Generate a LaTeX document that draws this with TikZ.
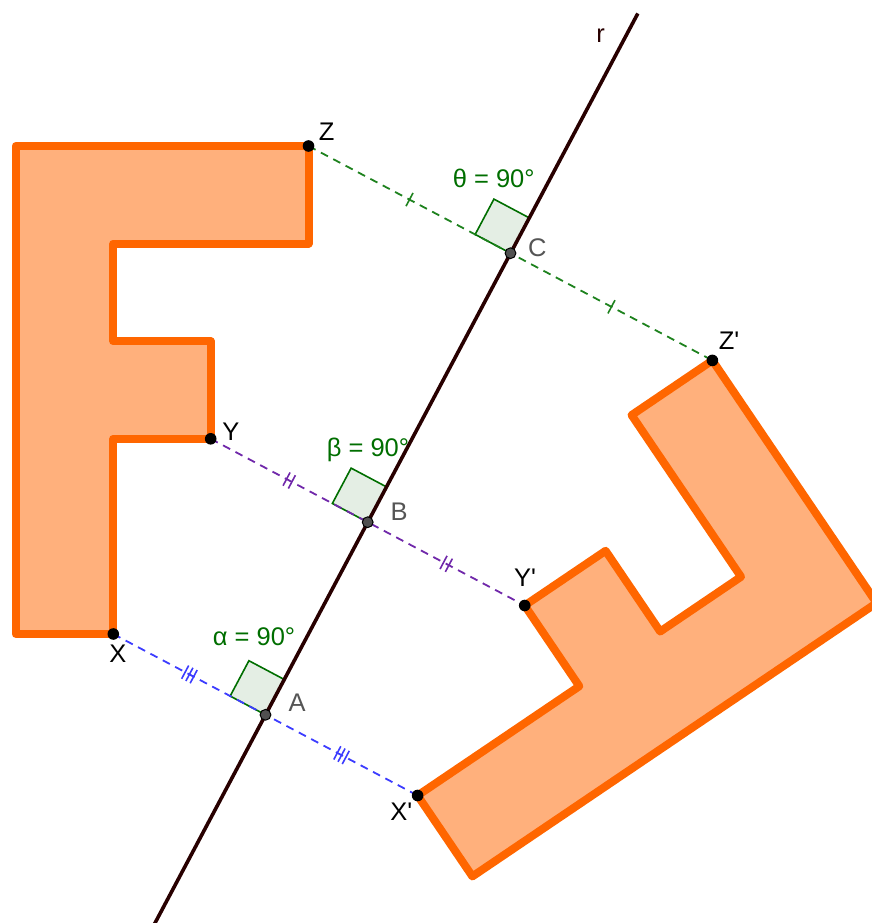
\documentclass[tikz,border=0pt]{standalone}
\usepackage{fontspec}
\setmainfont{Liberation Sans}
\usetikzlibrary{calc}
\definecolor{orangeE}{RGB}{255,102,0}
\definecolor{orangeF}{RGB}{255,176,124}
\definecolor{rline}{RGB}{40,0,0}
\definecolor{ggreen}{RGB}{0,110,0}
\definecolor{dgreen}{RGB}{30,130,30}
\definecolor{sqfill}{RGB}{228,238,228}
\definecolor{gpurple}{RGB}{112,40,170}
\definecolor{gblue}{RGB}{60,60,255}
\definecolor{ptgray}{RGB}{80,80,80}
\definecolor{lblgray}{RGB}{85,85,85}
\newcommand\mytick[3]{\draw[#3, line width=1.6pt] ($(#1)+(#2*0.8833,#2*0.4689)+(7.5*0.4689,-7.5*0.8833)$) -- ($(#1)+(#2*0.8833,#2*0.4689)-(7.5*0.4689,-7.5*0.8833)$);}
\newcommand\mysquare[1]{\draw[sqbox] (#1) -- ++(-40*0.8833,-40*0.4689) -- ++(40*0.4689,-40*0.8833) -- ++(40*0.8833,40*0.4689) -- cycle;}
\begin{document}
\begin{tikzpicture}[x=1pt,y=-1pt,
  figshape/.style={draw=orangeE, fill=orangeF, line width=8pt, line join=round},
  dashseg/.style={line width=1.8pt, dash pattern=on 8pt off 6pt},
  sqbox/.style={draw=ggreen, fill=sqfill, line width=1.6pt},
  lbl/.style={font=\fontsize{25.5}{30}\selectfont, inner sep=0pt, anchor=base},
  blackpt/.style={fill=black},
  graypt/.style={fill=ptgray, draw=black, line width=1pt}]
\useasboundingbox (0,0) rectangle (872,923);
\clip (0,0) rectangle (872,923);
% original F
\coordinate (p1) at (15.7,146);
\coordinate (Z) at (308.5,146);
\coordinate (p3) at (308.5,243.6);
\coordinate (p4) at (113.3,243.6);
\coordinate (p5) at (113.3,341.2);
\coordinate (p6) at (210.7,341.2);
\coordinate (Y) at (210.7,438.8);
\coordinate (p8) at (113.3,438.8);
\coordinate (X) at (113.3,634);
\coordinate (p10) at (15.7,634);
% reflected F
\coordinate (q1) at (876.6,603.0);
\coordinate (Zp) at (712.4,360.4);
\coordinate (q3) at (631.6,415.1);
\coordinate (q4) at (741.0,576.8);
\coordinate (q5) at (660.2,631.5);
\coordinate (q6) at (605.6,550.8);
\coordinate (Yp) at (524.7,605.5);
\coordinate (q8) at (579.3,686.2);
\coordinate (Xp) at (417.6,795.5);
\coordinate (q10) at (472.4,876.4);
% feet on r
\coordinate (A) at (265.5,714.8);
\coordinate (B) at (367.7,522.2);
\coordinate (C) at (510.5,253.2);
\coordinate (rtop) at (637.8,13.5);
\coordinate (rbot) at (143.6,944.5);

\draw[figshape] (p1) -- (Z) -- (p3) -- (p4) -- (p5) -- (p6) -- (Y) -- (p8) -- (X) -- (p10) -- cycle;
\draw[figshape] (q1) -- (Zp) -- (q3) -- (q4) -- (q5) -- (q6) -- (Yp) -- (q8) -- (Xp) -- (q10) -- cycle;

\mysquare{C}
\mysquare{B}
\mysquare{A}

\draw[dashseg, draw=dgreen] (Z) -- (Zp);
\draw[dashseg, draw=gpurple] (Y) -- (Yp);
\draw[dashseg, draw=gblue] (X) -- (Xp);

\coordinate (m1) at ($(Z)!0.5!(C)$);
\coordinate (m2) at ($(C)!0.5!(Zp)$);
\coordinate (m3) at ($(Y)!0.5!(B)$);
\coordinate (m4) at ($(B)!0.5!(Yp)$);
\coordinate (m5) at ($(X)!0.5!(A)$);
\coordinate (m6) at ($(A)!0.5!(Xp)$);
\mytick{m1}{0}{dgreen}
\mytick{m2}{0}{dgreen}
\mytick{m3}{-3}{gpurple}
\mytick{m3}{3}{gpurple}
\mytick{m4}{-3}{gpurple}
\mytick{m4}{3}{gpurple}
\mytick{m5}{-4.8}{gblue}
\mytick{m5}{0}{gblue}
\mytick{m5}{4.8}{gblue}
\mytick{m6}{-4.8}{gblue}
\mytick{m6}{0}{gblue}
\mytick{m6}{4.8}{gblue}

\draw[rline, line width=3.6pt] (rbot) -- (rtop);

\fill[blackpt] (Z) circle (5.8);
\fill[blackpt] (Y) circle (5.8);
\fill[blackpt] (X) circle (5.8);
\fill[blackpt] (Zp) circle (5.8);
\fill[blackpt] (Yp) circle (5.8);
\fill[blackpt] (Xp) circle (5.8);
\filldraw[graypt] (A) circle (5.4);
\filldraw[graypt] (B) circle (5.4);
\filldraw[graypt] (C) circle (5.4);

\node[lbl] (lZ) at (326.7,140) {Z};
\node[lbl] (lY) at (231,440) {Y};
\node[lbl] (lX) at (118,662.7) {X};
\node[lbl] (lZp) at (729,349.3) {Z\textquotesingle};
\node[lbl] (lYp) at (525,586.7) {Y\textquotesingle};
\node[lbl] (lXp) at (401.3,820) {X\textquotesingle};
\node[lbl, text=lblgray] (lA) at (297,711.7) {A};
\node[lbl, text=lblgray] (lB) at (399,520) {B};
\node[lbl, text=lblgray] (lC) at (537.3,256) {C};
\node[lbl, text=rline] (lr) at (600.7,42.7) {r};
\node[lbl, text=ggreen] (lth) at (493.7,187.3) {θ = 90°};
\node[lbl, text=ggreen] (lbe) at (368,456) {β = 90°};
\node[lbl, text=ggreen] (lal) at (254,645) {α = 90°};
\end{tikzpicture}
\end{document}
